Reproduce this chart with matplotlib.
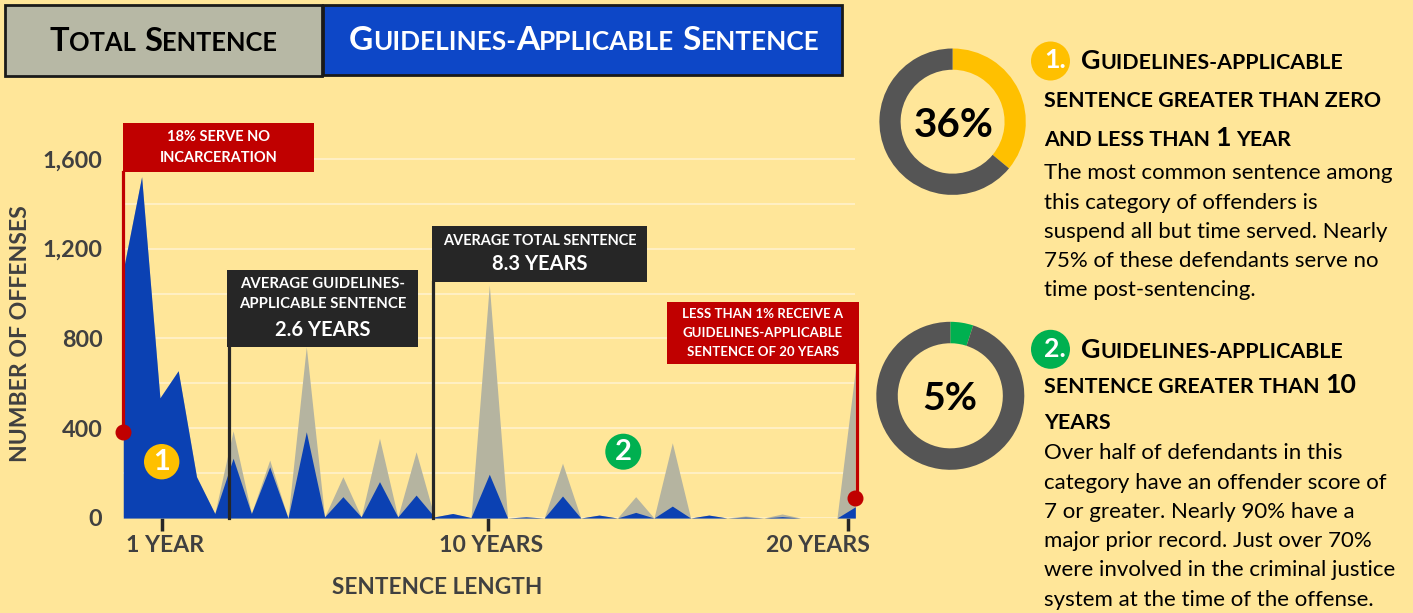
import numpy as np
import matplotlib
matplotlib.use('Agg')
import matplotlib.pyplot as plt
from matplotlib.patches import Rectangle, Circle

W, H = 1413, 613
FONT = 'Lato'
plt.rcParams['font.family'] = [FONT, 'DejaVu Sans']

# ---------------- data ----------------
sentence_years = [0.0, 0.5, 1.0, 1.5, 2.0, 2.5, 3.0, 3.5, 4.0, 4.5,
                  5.0, 5.5, 6.0, 6.5, 7.0, 7.5, 8.0, 8.5, 9.0, 9.5,
                  10.0, 10.5, 11.0, 11.5, 12.0, 12.5, 13.0, 13.5, 14.0, 14.5,
                  15.0, 15.5, 16.0, 16.5, 17.0, 17.5, 18.0, 18.5, 19.0, 19.5, 20.0]
guidelines_offenses = [1105, 1520, 535, 656, 184, 20, 266, 20, 228, 0,
                       384, 5, 95, 5, 162, 5, 102, 5, 20, 2,
                       195, 0, 5, 0, 98, 0, 13, 0, 25, 0,
                       53, 0, 13, 0, 4, 0, 6, 0, 0, 0, 50]
total_offenses = [1105, 1520, 535, 656, 184, 20, 388, 20, 258, 0,
                  763, 5, 184, 5, 355, 5, 295, 5, 20, 2,
                  1038, 0, 5, 0, 244, 0, 13, 0, 95, 0,
                  335, 0, 13, 0, 9, 0, 18, 0, 0, 0, 659]
marker_years = [0.0, 20.0]
marker_offenses = [384, 90]
y_ticks = [0, 400, 800, 1200, 1600]
y_tick_labels = ['0', '400', '800', '1,200', '1,600']
x_tick_labels = ['1 YEAR', '10 YEARS', '20 YEARS']
donut1 = [36, 64]
donut2 = [5, 95]
donut1_label = '36%'
donut2_label = '5%'

BG = '#FFE699'
BLUE = '#0B41B3'
GRAY = '#B5B4A0'
GRID = '#FFF2CC'
RED = '#C00000'
DARK = '#262626'
AX_TXT = '#404040'
YELLOW = '#FFC000'
GREEN = '#00B050'
DGRAY = '#555555'

fig = plt.figure(figsize=(W / 100, H / 100), dpi=100, facecolor=BG)
renderer = fig.canvas.get_renderer()


def adv(s, size, weight='bold'):
    t1 = fig.text(0, 0, '|' + s + '|', fontsize=size, fontweight=weight)
    t2 = fig.text(0, 0, '||', fontsize=size, fontweight=weight)
    w = t1.get_window_extent(renderer).width - t2.get_window_extent(renderer).width
    t1.remove(); t2.remove()
    return w


def runs_width(runs, base, weight='bold'):
    return sum(adv(s, base * f, weight) for s, f in runs)


def fit_base(runs, target, weight='bold'):
    return 10.0 * target / runs_width(runs, 10.0, weight)


def fit_size(s, target, weight='bold'):
    return fit_base([(s, 1.0)], target, weight)


def draw_runs(axo, x, y, runs, base, color, weight='bold', ha='left', zorder=10):
    total = runs_width(runs, base, weight)
    if ha == 'center':
        x = x - total / 2.0
    for s, f in runs:
        sz = base * f
        lead = len(s) - len(s.lstrip(' '))
        trail = len(s) - len(s.rstrip(' '))
        core = s.strip(' ')
        if lead:
            x += adv(' ' * lead, sz, weight)
        if core:
            axo.text(x, y, core, fontsize=sz, fontweight=weight, color=color,
                     va='baseline', ha='left', zorder=zorder)
            x += adv(core, sz, weight)
        if trail:
            x += adv(' ' * trail, sz, weight)


# ---------------- main chart ----------------
X0, X1 = 123.3, 855.3
Y0 = 518.0
PPU = 0.2245
YTOP = 1775
ax = fig.add_axes([X0 / W, (H - Y0) / H, (X1 - X0) / W, YTOP * PPU / H])
ax.set_facecolor('none')
xs = np.array(sentence_years)
ax.fill_between(xs, total_offenses, color=GRAY, lw=0, zorder=2)
ax.fill_between(xs, guidelines_offenses, color=BLUE, lw=0, zorder=3)
ax.set_xlim(0, 20)
ax.set_ylim(0, YTOP)
ax.set_yticks(y_ticks)
ax.set_yticks(np.arange(200, 1700, 400), minor=True)
ysz = fit_size('1,600', 60)
ax.set_yticklabels(y_tick_labels, fontweight='bold', fontsize=ysz, color=AX_TXT)
ax.grid(axis='y', which='both', color=GRID, lw=1.2, zorder=1)
ax.set_axisbelow(True)
for s in ax.spines.values():
    s.set_visible(False)
ax.tick_params(axis='y', which='both', length=0, pad=15)
tick_pos = [(162 - X0) / 36.6, (488 - X0) / 36.6, (847.7 - X0) / 36.6]
ax.set_xticks(tick_pos)
ax.set_xticklabels(['', '', ''])
ax.tick_params(axis='x', length=9, width=2.5, color=DARK)
xsz = fit_size('10 YEARS', 104)
label_pos = [(165 - X0) / 36.6, (491 - X0) / 36.6, (817.5 - X0) / 36.6]
for lp, lab in zip(label_pos, x_tick_labels):
    ax.text(lp, -(545 - Y0) / (YTOP * PPU), lab, transform=ax.get_xaxis_transform(),
            ha='center', va='center', fontsize=xsz, fontweight='bold', color=AX_TXT)
ax.plot(marker_years, marker_offenses, 'o', color=RED, ms=10.5, clip_on=False, zorder=20)

# axis titles
fig.text(437 / W, 1 - 587 / H, 'SENTENCE LENGTH', ha='center', va='center',
         fontsize=fit_size('SENTENCE LENGTH', 211), fontweight='bold', color=AX_TXT)
fig.text(21 / W, 1 - 333.5 / H, 'NUMBER OF OFFENSES', ha='center', va='center', rotation=90,
         fontsize=fit_size('NUMBER OF OFFENSES', 257), fontweight='bold', color=AX_TXT)

# ---------------- overlay (pixel coordinates) ----------------
ov = fig.add_axes([0, 0, 1, 1], zorder=5)
ov.set_xlim(0, W)
ov.set_ylim(H, 0)
ov.axis('off')
ov.patch.set_alpha(0)

# tabs
ov.add_patch(Rectangle((5, 5), 317, 71, fc='#B7B8A5', ec='#1A1A1A', lw=2.0, zorder=2))
ov.add_patch(Rectangle((323, 5), 519, 70, fc='#0D47C7', ec='#1A1A1A', lw=2.0, zorder=2))
tab1 = [('T', 1.0), ('OTAL', 0.78), (' ', 0.5), ('S', 1.0), ('ENTENCE', 0.78)]
tab2 = [('G', 1.0), ('UIDELINES-', 0.78), ('A', 1.0), ('PPLICABLE', 0.78), (' ', 0.5),
        ('S', 1.0), ('ENTENCE', 0.78)]
b1 = fit_base(tab1, 225)
draw_runs(ov, 161.5, 51, tab1, b1, '#000000', ha='center')
b2 = fit_base(tab2, 468)
draw_runs(ov, 582, 50, tab2, b2, 'white', ha='center')

# annotation boxes
def box(x0, y0, x1, y1, color, lines, zorder=6):
    ov.add_patch(Rectangle((x0, y0), x1 - x0, y1 - y0, fc=color, ec='none', zorder=zorder))
    cx = (x0 + x1) / 2
    for txt, yc, sz in lines:
        ov.text(cx, yc, txt, ha='center', va='center', fontsize=sz, fontweight='bold',
                color='white', zorder=zorder + 1)

s_red1 = fit_size('INCARCERATION', 119)
box(123.3, 123, 314, 172, RED, [('18% SERVE NO', 137, s_red1), ('INCARCERATION', 158, s_red1)])
s_blk = fit_size('AVERAGE GUIDELINES-', 164)
s_big = fit_size('2.6 YEARS', 96)
box(227, 270, 418, 347, DARK, [('AVERAGE GUIDELINES-', 284, s_blk),
                               ('APPLICABLE SENTENCE', 304, s_blk),
                               ('2.6 YEARS', 330, s_big)])
box(431.7, 226, 647.3, 282.3, DARK, [('AVERAGE TOTAL SENTENCE', 240.7, fit_size('AVERAGE TOTAL SENTENCE', 195)),
                                     ('8.3 YEARS', 264, s_big)])
s_red2 = fit_size('LESS THAN 1% RECEIVE A', 161)
box(667, 301.7, 859, 364, RED, [('LESS THAN 1% RECEIVE A', 314.3, s_red2),
                                ('GUIDELINES-APPLICABLE', 333, s_red2),
                                ('SENTENCE OF 20 YEARS', 351.7, s_red2)])

# connector lines
ov.plot([123.3, 123.3], [172, 431.7], color=RED, lw=2.3, zorder=4)
ov.plot([228.5, 228.5], [347, 518], color=DARK, lw=2.3, zorder=4)
ov.plot([433, 433], [282, 518], color=DARK, lw=2.3, zorder=4)
ov.plot([856.7, 856.7], [364, 497.7], color=RED, lw=2.3, zorder=4)

# chart badges
ov.add_patch(Circle((161.7, 461.7), 17.7, fc=YELLOW, ec='none', zorder=6))
ov.text(161.7, 462.5, '1', ha='center', va='center', fontsize=21, fontweight='bold', color='white', zorder=7)
ov.add_patch(Circle((623.3, 451.7), 18, fc=GREEN, ec='none', zorder=6))
ov.text(623.3, 452.5, '2', ha='center', va='center', fontsize=21, fontweight='bold', color='white', zorder=7)

# ---------------- donuts ----------------
def donut(cx, cy, r, vals, colors):
    dax = fig.add_axes([(cx - r) / W, (H - cy - r) / H, 2 * r / W, 2 * r / H], zorder=4)
    dax.pie(vals, colors=colors, startangle=90, counterclock=False, radius=1.0,
            wedgeprops=dict(width=0.29, edgecolor='none'))
    dax.set_xlim(-1, 1)
    dax.set_ylim(-1, 1)
    dax.set_aspect('equal')
    dax.axis('off')

donut(952.6, 121.7, 73.2, donut1, [YELLOW, DGRAY])
donut(950.3, 395.8, 74, donut2, [GREEN, DGRAY])
ov.text(953.5, 136.7, donut1_label, ha='center', va='baseline', fontsize=fit_size(donut1_label, 80),
        fontweight='bold', color='#000000', zorder=8)
ov.text(950, 410, donut2_label, ha='center', va='baseline', fontsize=fit_size(donut2_label, 55),
        fontweight='bold', color='#000000', zorder=8)

# ---------------- right-hand text ----------------
hb = fit_base([('SENTENCE GREATER THAN ZERO', 0.8)], 336)
TX = 1044
# heading 1
ov.add_patch(Circle((1050.5, 61), 19.5, fc=YELLOW, ec='none', zorder=6))
ov.text(TX, 68.3, '1.', ha='left', va='baseline', fontsize=hb, fontweight='bold', color='white', zorder=7)
draw_runs(ov, 1080.5, 69.3, [('G', 1.0), ('UIDELINES-APPLICABLE', 0.8)], hb, '#000000')
draw_runs(ov, TX, 107.3, [('SENTENCE GREATER THAN ZERO', 0.8)], hb, '#000000')
draw_runs(ov, TX, 145.7, [('AND LESS THAN ', 0.8), ('1', 1.0), (' YEAR', 0.8)], hb, '#000000')
# heading 2
ov.add_patch(Circle((1050.5, 349.3), 19.5, fc=GREEN, ec='none', zorder=6))
ov.text(TX, 357, '2.', ha='left', va='baseline', fontsize=hb, fontweight='bold', color='white', zorder=7)
draw_runs(ov, 1080.5, 357.7, [('G', 1.0), ('UIDELINES-APPLICABLE', 0.8)], hb, '#000000')
draw_runs(ov, TX, 393.3, [('SENTENCE GREATER THAN ', 0.8), ('10', 1.0)], hb, '#000000')
draw_runs(ov, TX, 429.3, [('YEARS', 0.8)], hb, '#000000')

body1 = ["The most common sentence among", "this category of offenders is",
         "suspend all but time served. Nearly", "75% of these defendants serve no",
         "time post-sentencing."]
body2 = ["Over half of defendants in this", "category have an offender score of",
         "7 or greater. Nearly 90% have a", "major prior record. Just over 70%",
         "were involved in the criminal justice", "system at the time of the offense."]
bsz = fit_size(body1[0], 348, weight='normal')
for k, line in enumerate(body1):
    ov.text(TX, 179.3 + 29.3 * k, line, ha='left', va='baseline', fontsize=bsz, color='#000000', zorder=7)
for k, line in enumerate(body2):
    ov.text(TX, 459.3 + 29.3 * k, line, ha='left', va='baseline', fontsize=bsz, color='#000000', zorder=7)

fig.savefig('out.png', dpi=100, facecolor=BG)
